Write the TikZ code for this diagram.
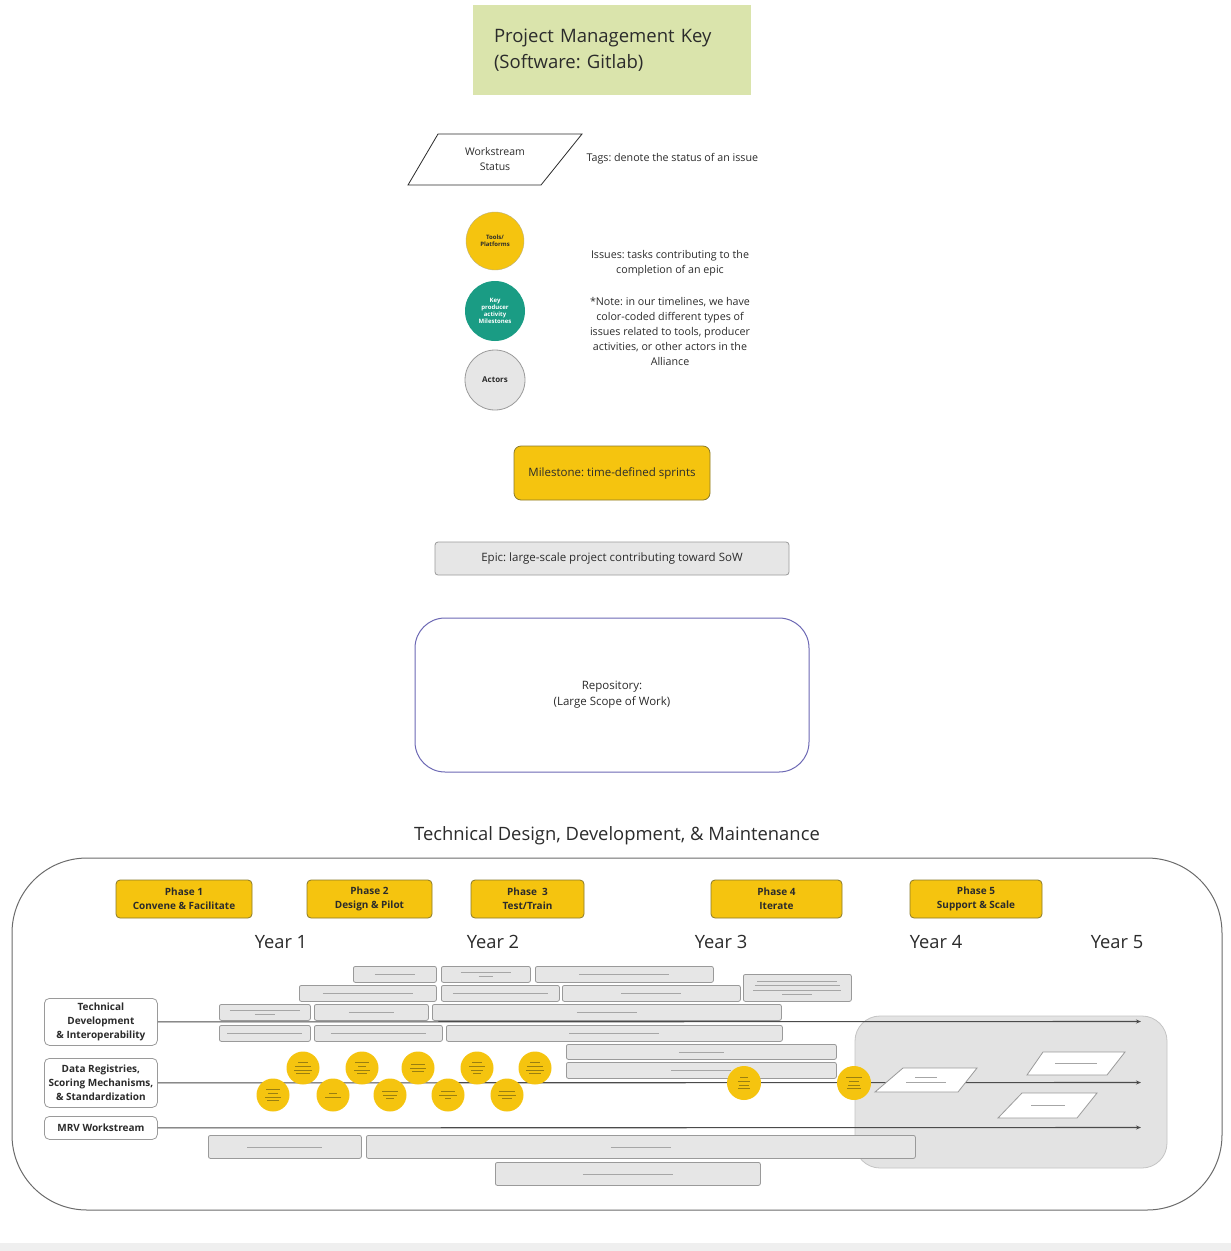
\documentclass[tikz,border=0pt]{standalone}
\usepackage{fontspec}
\setmainfont{Open Sans}
\usetikzlibrary{arrows.meta}
\frenchspacing

\definecolor{keygreen}{HTML}{DAE4AC}
\definecolor{gold}{HTML}{F5C40F}
\definecolor{goldline}{HTML}{8A7A2A}
\definecolor{circtext}{HTML}{9A7F10}
\definecolor{teal}{HTML}{1A9C84}
\definecolor{epicfill}{HTML}{E6E6E6}
\definecolor{epicline}{HTML}{9A9A9A}
\definecolor{regionfill}{HTML}{E3E3E3}
\definecolor{regionline}{HTML}{C4C4C4}
\definecolor{repo}{HTML}{6C68B4}
\definecolor{txt}{HTML}{2B2B2B}
\definecolor{phgrey}{HTML}{A6A6A6}
\definecolor{pagegrey}{HTML}{EFEFEF}

% placeholder strokes for the tiny captions inside bars and circles
\newcommand{\ph}[1]{{\color{phgrey}\rule{#1pt}{0.7pt}}}
\newcommand{\cph}[1]{{\color{circtext}\rule{#1pt}{0.6pt}}}

% epic bar: name, x1, y1, x2, y2, content
\newcommand{\epicbar}[6]{%
  \node[epic, minimum width={(#4-#2)*1pt}, minimum height={(#5-#3)*1pt}] (#1) at (#2,#3) {#6};}

\tikzset{
  epic/.style={draw=epicline, fill=epicfill, rounded corners=2pt, line width=0.8pt,
    inner sep=0pt, anchor=north west, align=center, font=\fontsize{4}{4.5}\selectfont},
  phase/.style={draw=goldline, fill=gold, rounded corners=4pt, line width=0.8pt,
    align=center, minimum height=38pt, inner sep=0pt,
    font=\fontsize{10}{14}\selectfont\bfseries, text=txt},
  lane/.style={draw=epicline, fill=white, rounded corners=5pt, line width=0.8pt,
    align=center, anchor=north west, inner sep=0pt, minimum width=113pt,
    font=\fontsize{10}{14}\selectfont\bfseries, text=txt},
  issue/.style={circle, fill=gold, draw=none, minimum size=33pt, inner sep=0pt,
    align=center, font=\fontsize{3}{3.6}\selectfont},
  tagshape/.style={draw=txt, fill=white, line width=0.8pt},
  smalltag/.style={draw=epicline, fill=white, line width=0.8pt},
  lanearrow/.style={draw=txt!85, line width=1.1pt, -{Stealth[length=5pt,width=4pt]}},
  keytext/.style={font=\fontsize{10.7}{15}\selectfont, text=txt, align=center},
  yearlbl/.style={font=\fontsize{18.3}{22}\selectfont, text=txt},
}

\begin{document}
\begin{tikzpicture}[x=1pt,y=-1pt]
\useasboundingbox (0,0) rectangle (1231,1251);
\fill[pagegrey] (0,1243) rectangle (1231,1251);

% ---------- key ----------
\node[fill=keygreen, minimum width=278pt, minimum height=90pt, text width=236pt,
      inner xsep=21pt, align=left, font=\fontsize{18.5}{26}\selectfont, text=txt]
  (keyTitle) at (612,50) {Project Management Key\\(Software: Gitlab)};

\draw[tagshape] (438,134) -- (582,134) -- (541,185) -- (408,185) -- cycle;
\node[keytext, font=\fontsize{10.5}{15}\selectfont] (wsStatus) at (495,159) {Workstream\\Status};
\node[keytext, anchor=west] (tagsNote) at (583,159) {Tags: denote the status of an issue};

\node[circle, fill=gold, draw=goldline!60, minimum size=58pt, inner sep=0pt, align=center,
      font=\fontsize{6}{7}\selectfont\bfseries, text=txt] (keyTools) at (495,241) {Tools/\\Platforms};
\node[circle, fill=teal, draw=none, minimum size=60pt, inner sep=0pt, align=center,
      font=\fontsize{6}{7}\selectfont\bfseries, text=white] (keyProducer) at (495,311)
      {Key\\producer\\activity\\Milestones};
\node[circle, fill=epicfill, draw=epicline, line width=0.8pt, minimum size=60pt, inner sep=0pt,
      font=\fontsize{8}{9}\selectfont\bfseries, text=txt] (keyActors) at (495,380) {Actors};

\node[keytext] (issuesNote) at (670,263) {Issues: tasks contributing to the\\completion of an epic};
\node[keytext] (timelineNote) at (670,331) {*Note: in our timelines, we have\\color-coded different types of\\issues related to tools, producer\\activities, or other actors in the\\Alliance};

\node[fill=gold, draw=goldline, line width=0.8pt, rounded corners=7pt, minimum width=196pt,
      minimum height=54pt, font=\fontsize{11.5}{13}\selectfont, text=txt]
  (keyMilestone) at (612,473) {Milestone: time-defined sprints};
\node[fill=epicfill, draw=epicline, line width=0.8pt, rounded corners=3pt, minimum width=354pt,
      minimum height=33pt, font=\fontsize{11.5}{13}\selectfont, text=txt]
  (keyEpic) at (612,558.5) {Epic: large-scale project contributing toward SoW};
\node[fill=white, draw=repo, line width=1pt, rounded corners=30pt, minimum width=394pt,
      minimum height=154pt, align=center, font=\fontsize{11.5}{16}\selectfont, text=txt]
  (keyRepo) at (612,695) {Repository:\\(Large Scope of Work)};

% ---------- timeline ----------
\node[font=\fontsize{18.4}{21}\selectfont, text=txt] (tlTitle) at (617,836)
  {Technical Design, Development, \& Maintenance};

\draw[draw=txt!70, line width=1pt, rounded corners=75pt, fill=white] (12,858) rectangle (1222,1210);
\draw[fill=regionfill, draw=regionline, line width=0.8pt, rounded corners=25pt] (855,1016) rectangle (1167,1168);

\node[phase, minimum width=136pt] (ph1) at (184,899) {Phase 1\\Convene \& Facilitate};
\node[phase, minimum width=125pt] (ph2) at (369.5,899) {Phase 2\\Design \& Pilot};
\node[phase, minimum width=113pt] (ph3) at (527.5,899) {Phase\ \ 3\\Test/Train};
\node[phase, minimum width=131pt] (ph4) at (776.5,899) {Phase 4\\Iterate};
\node[phase, minimum width=132pt] (ph5) at (976,899) {Phase 5\\Support \& Scale};

\node[yearlbl] (yr1) at (281,942) {Year 1};
\node[yearlbl] (yr2) at (493,942) {Year 2};
\node[yearlbl] (yr3) at (721,942) {Year 3};
\node[yearlbl] (yr4) at (936,942) {Year 4};
\node[yearlbl] (yr5) at (1117,942) {Year 5};

% lane labels
\node[lane, minimum height=47pt] (laneTech) at (44,998) {Technical\\Development\\\& Interoperability};
\node[lane, minimum height=49pt] (laneData) at (44,1058) {Data Registries,\\Scoring Mechanisms,\\\& Standardization};
\node[lane, minimum height=23pt] (laneMRV) at (44,1116) {MRV Workstream};

\coordinate (techEnd) at (1141,1021.5);
\coordinate (dataEnd) at (1141,1082.5);
\coordinate (mrvEnd) at (1141,1127.5);
\draw[lanearrow] (laneTech.east) -- (techEnd);
\draw[lanearrow] (laneData.east) -- (dataEnd);
\draw[lanearrow] (laneMRV.east) -- (mrvEnd);

% epics
\epicbar{a1}{353}{966}{436}{982}{\ph{40}}
\epicbar{a2}{441}{966}{530}{982}{\ph{50}\\\ph{14}}
\epicbar{a3}{535}{966}{713}{982}{\ph{90}}
\epicbar{a4}{743}{974}{851}{1001}{\ph{80}\\\ph{85}\\\ph{88}\\\ph{30}}
\epicbar{b1}{299}{985}{436}{1001}{\ph{90}}
\epicbar{b2}{441}{985}{559}{1001}{\ph{95}}
\epicbar{b3}{562}{985}{740}{1001}{\ph{60}}
\epicbar{c1}{219}{1004}{310}{1020}{\ph{70}\\\ph{20}}
\epicbar{c2}{314}{1004}{428}{1020}{\ph{45}}
\epicbar{c3}{432}{1004}{781}{1020}{\ph{60}}
\epicbar{d1}{219}{1025}{310}{1041}{\ph{75}}
\epicbar{d2}{314}{1025}{442}{1041}{\ph{95}}
\epicbar{d3}{446}{1025}{782}{1041}{\ph{90}}
\epicbar{e1}{566}{1044}{836}{1059}{\ph{45}}
\epicbar{f1}{566}{1062}{836}{1078}{\ph{60}}
\epicbar{g1}{208}{1135}{361}{1158}{\ph{75}}
\epicbar{g2}{366}{1135}{915}{1158}{\ph{60}}
\epicbar{h1}{495}{1162}{760}{1185}{\ph{90}}

% issues along the data lane
\node[issue] (iu1) at (303,1068) {\cph{10}\\\cph{16}\\\cph{18}\\\cph{14}};
\node[issue] (iu2) at (362,1068) {\cph{14}\\\cph{8}\\\cph{16}\\\cph{10}};
\node[issue] (iu3) at (418,1068) {\cph{14}\\\cph{16}\\\cph{12}};
\node[issue] (iu4) at (477,1068) {\cph{10}\\\cph{16}\\\cph{12}\\\cph{8}};
\node[issue] (iu5) at (535,1068) {\cph{10}\\\cph{16}\\\cph{18}\\\cph{12}};
\node[issue] (il1) at (273,1095) {\cph{14}\\\cph{10}\\\cph{16}\\\cph{12}};
\node[issue] (il2) at (333,1095) {\cph{8}\\\cph{16}};
\node[issue] (il3) at (390,1095) {\cph{16}\\\cph{14}\\\cph{8}};
\node[issue] (il4) at (448,1095) {\cph{14}\\\cph{18}\\\cph{6}};
\node[issue] (il5) at (507,1095) {\cph{16}\\\cph{18}\\\cph{10}};
\node[issue, minimum size=34pt] (iy1) at (744,1083) {\cph{8}\\\cph{12}\\\cph{10}\\\cph{12}};
\node[issue, minimum size=34pt] (iy2) at (854,1083) {\cph{16}\\\cph{10}\\\cph{12}\\\cph{14}};

% workstream status tags
\draw[smalltag] (903,1068) -- (977,1068) -- (958,1092) -- (875,1092) -- cycle;
\node[font=\fontsize{4}{4.5}\selectfont, align=center] (tagA) at (926,1080) {\ph{22}\\\ph{40}};
\draw[smalltag] (1043,1052) -- (1125,1052) -- (1107,1075) -- (1027,1075) -- cycle;
\node[font=\fontsize{4}{4.5}\selectfont] (tagB) at (1076,1063.5) {\ph{42}};
\draw[smalltag] (1022,1093) -- (1097,1093) -- (1077,1118) -- (998,1118) -- cycle;
\node[font=\fontsize{4}{4.5}\selectfont] (tagC) at (1048,1105.5) {\ph{34}};
\end{tikzpicture}
\end{document}
